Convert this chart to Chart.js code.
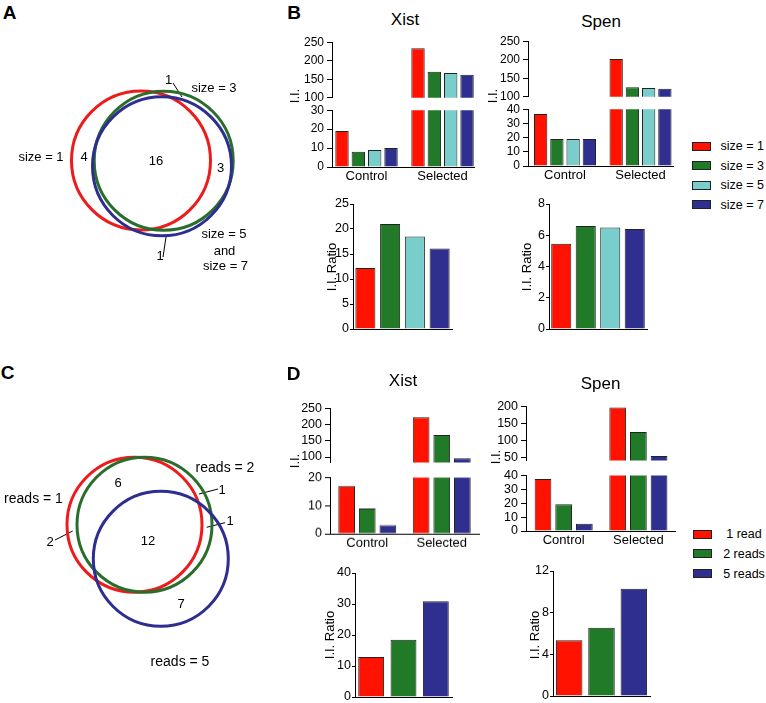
<!DOCTYPE html>
<html>
<head>
<meta charset="utf-8">
<script src="https://cdn.jsdelivr.net/npm/chart.js@4.4.1/dist/chart.umd.min.js"></script>
<style>
  body { margin: 0; background: #fff; }
  #fig { position: relative; width: 766px; height: 703px; overflow: hidden; background: #fff;
         font-family: "Liberation Sans", Arial, sans-serif; color: #000; }
  #fig canvas { position: absolute; }
  .t { position: absolute; line-height: 1; white-space: nowrap; transform: translate(-50%, -50%); }
  .sw { position: absolute; box-sizing: border-box; width: 19px; height: 9px; border: 1px solid #222; }
</style>
</head>
<body>
<div id="fig"></div>
<script>
// ---- data ----
const groups = ['Control', 'Selected'];
const sizeNames = ['size = 1', 'size = 3', 'size = 5', 'size = 7'];
const readNames = ['1 read', '2 reads', '5 reads'];

// panel B: I.I. (Control, Selected) per window size
const xistSize1 = [19, 234];
const xistSize3 = [8, 170];
const xistSize5 = [9, 167];
const xistSize7 = [10, 162];
const spenSize1 = [36.6, 202];
const spenSize3 = [19, 126];
const spenSize5 = [19, 124];
const spenSize7 = [19, 121.5];
const xistSizeRatio = [12.2, 21, 18.5, 16.1];
const spenSizeRatio = [5.45, 6.6, 6.5, 6.4];

// panel D: I.I. (Control, Selected) per read threshold
const xistRead1 = [17, 223];
const xistRead2 = [9, 168];
const xistRead5 = [3.1, 96];
const spenRead1 = [37.5, 197];
const spenRead2 = [19.2, 125];
const spenRead5 = [5.2, 54];
const xistReadRatio = [12.9, 18.5, 30.9];
const spenReadRatio = [5.35, 6.55, 10.3];

// tick labels
const ticksB_top = [100, 150, 200, 250];
const ticksXistB_low = [0, 10, 20, 30];
const ticksSpenB_low = [0, 10, 20, 30, 40];
const ticksXistB_ratio = [0, 5, 10, 15, 20, 25];
const ticksSpenB_ratio = [0, 2, 4, 6, 8];
const ticksXistD_top = [100, 150, 200, 250];
const ticksXistD_low = [0, 10, 20];
const ticksSpenD_top = [50, 100, 150, 200];
const ticksSpenD_low = [0, 10, 20, 30, 40];
const ticksXistD_ratio = [0, 10, 20, 30, 40];
const ticksSpenD_ratio = [0, 4, 8, 12];

// venn region counts
const vennA_counts = ['4', '16', '3', '1', '1'];
const vennC_counts = ['6', '12', '7', '2', '1', '1'];

// ---- styles ----
const barColors = ['#ff1200', '#217a27', '#79cdcb', '#2f2f8f'];
const readColors = [barColors[0], barColors[1], barColors[3]];
const vennColors = ['#ee1b1b', '#2a6e2c', '#2e2e92'];

Chart.defaults.font.family = '"Liberation Sans", Arial, sans-serif';
Chart.defaults.color = '#000';
Chart.defaults.animation = false;

const fig = document.getElementById('fig');
const AX_W = 40, PAD = 9, PAD_R = 4;

function addCanvas(left, top, w, h) {
  const c = document.createElement('canvas');
  c.width = w; c.height = h;
  c.style.left = left + 'px'; c.style.top = top + 'px';
  c.style.width = w + 'px'; c.style.height = h + 'px';
  fig.appendChild(c);
  return c;
}

function text(str, x, y, size, extra) {
  const d = document.createElement('div');
  d.className = 't';
  d.textContent = str;
  d.style.left = x + 'px';
  d.style.top = y + 'px';
  d.style.fontSize = size + 'px';
  if (extra) Object.assign(d.style, extra);
  fig.appendChild(d);
}

// box = plot area in page pixels
function barChart(box, s) {
  const xH = s.xMode === 'none' ? 0 : (s.xMode === 'labels' ? 18 : 1);
  const w = box.r - box.l + AX_W + PAD_R;
  const h = box.b - box.t + PAD * 2 + xH;
  const c = addCanvas(box.l - AX_W, box.t - PAD, w, h);

  let x;
  if (s.xRange) {
    x = { type: 'linear', min: s.xRange[0], max: s.xRange[1], offset: false,
          afterBuildTicks: sc => { sc.ticks = groups.map((g, i) => ({ value: i })); },
          ticks: { callback: (v, i) => groups[i], autoSkip: false, maxRotation: 0, padding: 2,
                   font: { size: 13 }, color: '#000' } };
  } else {
    x = { type: 'category', offset: true, ticks: { display: false } };
  }
  Object.assign(x, {
    display: s.xMode !== 'none',
    grid: { display: false, drawTicks: false },
    border: { display: true, color: '#000', width: 1 },
    afterFit: sc => { sc.height = xH; }
  });

  const y = {
    type: 'linear', min: s.yMin, max: s.yMax, beginAtZero: false,
    afterBuildTicks: sc => { sc.ticks = s.yTicks.map(v => ({ value: v })); },
    afterFit: sc => { sc.width = AX_W; },
    grid: { display: true, drawOnChartArea: false, drawTicks: true, tickLength: s.tickLen || 5,
            color: '#000', lineWidth: 1 },
    border: { display: true, color: '#000', width: 1 },
    ticks: { padding: s.tickPad == null ? 3 : s.tickPad, autoSkip: false, color: '#000',
             font: { size: s.tickFont || 12 } }
  };

  new Chart(c, {
    type: 'bar',
    data: { labels: s.labels, datasets: s.datasets },
    options: {
      responsive: false, animation: false, events: [],
      layout: { padding: { top: PAD, bottom: PAD, left: 0, right: PAD_R } },
      plugins: { legend: { display: false }, tooltip: { enabled: false } },
      scales: { x, y }
    }
  });
}

function groupedSets(series, colors, keep, cat, bar) {
  return series.map((vals, k) => ({
    data: vals.map((v, i) => ({ x: i, y: keep(v) ? v : null })),
    backgroundColor: colors[k], borderColor: '#222', borderWidth: 1, borderSkipped: 'start',
    clip: 0, categoryPercentage: cat, barPercentage: bar
  }));
}

function ratioSets(vals, colors, bar) {
  return [{ data: vals, backgroundColor: colors, borderColor: '#222', borderWidth: 1,
            borderSkipped: 'start', clip: 0, categoryPercentage: 1, barPercentage: bar }];
}

function brokenChart(topBox, lowBox, series, colors, topAxis, lowAxis, xRange, cat, bar, tf) {
  barChart(topBox, { xMode: 'none', xRange, yMin: topAxis.min, yMax: topAxis.max, yTicks: topAxis.ticks,
    tickFont: tf, datasets: groupedSets(series, colors, v => v >= topAxis.min, cat, bar) });
  barChart(lowBox, { xMode: 'labels', xRange, yMin: lowAxis.min, yMax: lowAxis.max, yTicks: lowAxis.ticks,
    tickFont: tf, datasets: groupedSets(series, colors, () => true, cat, bar) });
}

function ratioChart(box, names, vals, colors, max, ticks, bar) {
  barChart(box, { xMode: 'line', labels: names, yMin: 0, yMax: max, yTicks: ticks,
    tickFont: 12.5, tickLen: 3, tickPad: 1, datasets: ratioSets(vals, colors, bar) });
}

// ---- panel B ----
const sizeXist = [xistSize1, xistSize3, xistSize5, xistSize7];
const sizeSpen = [spenSize1, spenSize3, spenSize5, spenSize7];
brokenChart({ l: 332, r: 474, t: 41, b: 99 }, { l: 332, r: 474, t: 109, b: 167 }, sizeXist, barColors,
  { min: 100, max: 250, ticks: ticksB_top }, { min: 0, max: 30, ticks: ticksXistB_low },
  [-0.454, 1.414], 0.86, 0.82, 12);
brokenChart({ l: 528, r: 673, t: 39.5, b: 97.5 }, { l: 528, r: 673, t: 108, b: 166 }, sizeSpen, barColors,
  { min: 100, max: 250, ticks: ticksB_top }, { min: 0, max: 40, ticks: ticksSpenB_low },
  [-0.49, 1.43], 0.86, 0.82, 12);
ratioChart({ l: 353, r: 452, t: 204, b: 329 }, sizeNames, xistSizeRatio, barColors, 25, ticksXistB_ratio, 0.81);
ratioChart({ l: 549, r: 647, t: 204, b: 329 }, sizeNames, spenSizeRatio, barColors, 8, ticksSpenB_ratio, 0.82);

// ---- panel D ----
const readXist = [xistRead1, xistRead2, xistRead5];
const readSpen = [spenRead1, spenRead2, spenRead5];
brokenChart({ l: 329.5, r: 479, t: 407, b: 464 }, { l: 329.5, r: 479, t: 476, b: 533.5 }, readXist, readColors,
  { min: 83, max: 250, ticks: ticksXistD_top }, { min: 0, max: 20, ticks: ticksXistD_low },
  [-0.5, 1.5], 0.83, 0.81, 12.5);
brokenChart({ l: 526, r: 675, t: 405, b: 462 }, { l: 526, r: 675, t: 473.5, b: 531 }, readSpen, readColors,
  { min: 41, max: 200, ticks: ticksSpenD_top }, { min: 0, max: 40, ticks: ticksSpenD_low },
  [-0.504, 1.49], 0.83, 0.81, 12.5);
ratioChart({ l: 354.5, r: 452, t: 573, b: 697 }, readNames, xistReadRatio, readColors, 40, ticksXistD_ratio, 0.8);
ratioChart({ l: 552.5, r: 650, t: 571, b: 696 }, readNames, spenReadRatio, readColors, 12, ticksSpenD_ratio, 0.82);

// ---- venn diagrams (bubble chart, 1 unit = 1 px) ----
function vennChart(box, circ, leaders) {
  const c = addCanvas(box.l, box.t, box.r - box.l, box.b - box.t);
  const sets = [{
    data: circ.x.map((x, i) => ({ x, y: circ.y[i], r: circ.r[i] })),
    borderColor: vennColors, backgroundColor: 'rgba(0,0,0,0)', borderWidth: 3, clip: false
  }].concat(leaders.map(s => ({
    type: 'line', data: [{ x: s[0], y: s[1] }, { x: s[2], y: s[3] }],
    borderColor: '#000', borderWidth: 1, pointRadius: 0, fill: false, clip: false
  })));
  new Chart(c, {
    type: 'bubble',
    data: { datasets: sets },
    options: {
      responsive: false, animation: false, events: [],
      layout: { padding: 0, autoPadding: false },
      plugins: { legend: { display: false }, tooltip: { enabled: false } },
      scales: {
        x: { type: 'linear', display: false, min: box.l, max: box.r },
        y: { type: 'linear', display: false, min: box.t, max: box.b, reverse: true }
      }
    }
  });
}

vennChart({ l: 0, t: 40, r: 290, b: 300 },
  { x: [141, 163.7, 162], y: [160.5, 160.7, 166.3], r: [69.5, 69.5, 69.5] },
  [[173, 83, 182, 97], [163, 257, 166, 237]]);
vennChart({ l: 0, t: 420, r: 290, b: 690 },
  { x: [134.5, 144.5, 160.8], y: [524.7, 524.7, 558.8], r: [67.5, 67.5, 67.5] },
  [[55, 540, 72.7, 531], [199, 494, 218, 489], [206.7, 527.3, 225, 522.7]]);

// ---- text ----
const bold = { fontWeight: 'bold' };
text('A', 9.5, 12, 19, bold);
text('B', 294, 12, 19, bold);
text('C', 7.5, 372, 19, bold);
text('D', 293.5, 373, 19, bold);

text('Xist', 405, 19, 17);
text('Spen', 601, 21, 17);
text('Xist', 403, 380, 17);
text('Spen', 600.5, 383, 17);

const rot = { transform: 'translate(-50%, -50%) rotate(-90deg)' };
text('I.I.', 293.5, 96, 13, rot);
text('I.I.', 491.5, 96, 13, rot);
text('I.I.', 294, 461, 13, rot);
text('I.I.', 495, 457, 13, rot);
text('I.I. Ratio', 331, 267, 13, rot);
text('I.I. Ratio', 526, 267, 13, rot);
text('I.I. Ratio', 329, 635, 13, rot);
text('I.I. Ratio', 534, 635, 13, rot);

// venn A labels
text(sizeNames[0], 41, 156, 13);
text(vennA_counts[0], 84, 156, 13);
text(vennA_counts[1], 156, 160, 13);
text(vennA_counts[2], 220.5, 166.5, 13);
text(vennA_counts[3], 168.5, 79, 13);
text(sizeNames[1], 214, 87, 13);
text(vennA_counts[4], 160, 255, 13);
text(sizeNames[2], 224, 233, 13);
text('and', 224.5, 249.5, 13);
text(sizeNames[3], 225.5, 265, 13);

// venn C labels
text('reads = 1', 33.5, 498, 14);
text('reads = 2', 225, 467, 14);
text('reads = 5', 180, 661, 14);
text(vennC_counts[0], 118, 482, 13);
text(vennC_counts[1], 148, 540, 13);
text(vennC_counts[2], 181, 602.5, 13);
text(vennC_counts[3], 50, 541, 13);
text(vennC_counts[4], 222, 489, 13);
text(vennC_counts[5], 230, 520, 13);

// legends
function legend(names, colors, swX, rows, textX, centered) {
  names.forEach((n, i) => {
    const sw = document.createElement('div');
    sw.className = 'sw';
    sw.style.left = swX + 'px';
    sw.style.top = (rows[i] - 4.5) + 'px';
    sw.style.background = colors[i];
    fig.appendChild(sw);
    if (centered) text(n, textX, rows[i], 12.5);
    else text(n, textX, rows[i], 12.5, { transform: 'translate(0, -50%)' });
  });
}
legend(sizeNames, barColors, 692, [146, 165.5, 185, 204.5], 720.5, false);
legend(readNames, readColors, 693, [534, 553.5, 573.5], 744, true);
</script>
</body>
</html>
